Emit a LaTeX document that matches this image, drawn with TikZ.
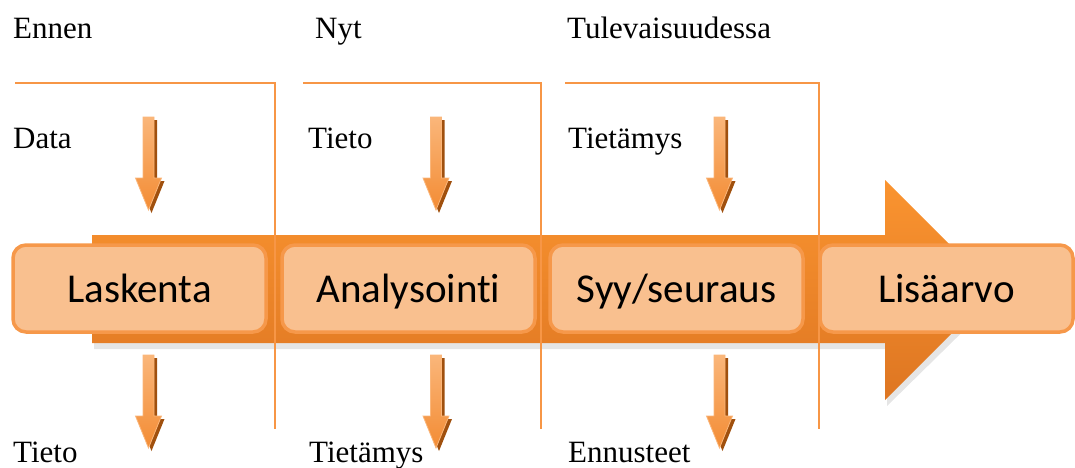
\documentclass[tikz,border=0pt]{standalone}
\usepackage{fontspec}
\setmainfont{Liberation Serif}
\newfontfamily\boxfont[Ligatures=NoCommon]{Carlito}
\usetikzlibrary{shadings}
\definecolor{lineor}{RGB}{247,150,70}
\definecolor{boxfill}{RGB}{249,192,143}
\definecolor{boxline}{RGB}{246,152,74}
\definecolor{arrtop}{RGB}{250,148,48}
\definecolor{arrbot}{RGB}{222,118,34}
\definecolor{smtop}{RGB}{250,182,122}
\definecolor{smbot}{RGB}{243,140,52}
\definecolor{smshadow}{RGB}{160,80,14}
\tikzset{
  lbl/.style={anchor=base west, inner sep=0pt, font=\fontsize{31}{31}\selectfont},
  stagebox/.style={draw=boxline, line width=3.5pt, fill=boxfill, rounded corners=13pt,
    minimum width=253pt, minimum height=87pt, inner sep=0pt, text height=27pt, text depth=0pt,
    font=\boxfont\fontsize{41}{41}\selectfont},
  sect/.style={draw=lineor, line width=2.3pt},
  pics/dnarr/.style={code={
    \fill[smshadow] (-2.5,3) -- (8.5,3) -- (8.5,64) -- (16,64) -- (3,96) -- (-10,64) -- (-2.5,64) -- cycle;
    \shade[top color=smtop, bottom color=smbot, draw=smtop, line width=0.8pt]
      (-5.5,0) -- (5.5,0) -- (5.5,61) -- (13,61) -- (0,93) -- (-13,61) -- (-5.5,61) -- cycle;
  }}
}
\begin{document}
\begin{tikzpicture}[x=1pt,y=-1pt]
\useasboundingbox (0,0) rectangle (1075,467);
% shadow of big arrow
\fill[black!10] (94,240) -- (887,240) -- (887,186) -- (999,296) -- (887,406) -- (887,349) -- (94,349) -- cycle;
% big arrow
\shade[top color=arrtop, bottom color=arrbot]
  (92,235) -- (885,235) -- (885,180) -- (995,290) -- (885,400) -- (885,343) -- (92,343) -- cycle;
% section lines
\coordinate (s1a) at (15,83); \coordinate (s1b) at (275,83); \coordinate (s1c) at (275,429);
\coordinate (s2a) at (303,83); \coordinate (s2b) at (541,83); \coordinate (s2c) at (541,429);
\coordinate (s3a) at (565,83); \coordinate (s3b) at (819,83); \coordinate (s3c) at (819,429);
\draw[sect] (s1a) -- (s1b) -- (s1c);
\draw[sect] (s2a) -- (s2b) -- (s2c);
\draw[sect] (s3a) -- (s3b) -- (s3c);
% stage boxes
\node[stagebox] (b1) at (139.5,288.5) {Laskenta};
\node[stagebox] (b2) at (408.5,288.5) {Analysointi};
\node[stagebox] (b3) at (676.5,288.5) {Syy/seuraus};
\node[stagebox] (b4) at (946.5,288.5) {Lisäarvo};
% small arrows
\pic at (148.5,117) {dnarr};
\pic at (436,117) {dnarr};
\pic at (719.5,117) {dnarr};
\pic at (148.5,355) {dnarr};
\pic at (436,355) {dnarr};
\pic at (719.5,355) {dnarr};
% labels
\node[lbl] (h1) at (13,38) {Ennen};
\node[lbl] (h2) at (315,38) {Nyt};
\node[lbl] (h3) at (567,38) {Tulevaisuudessa};
\node[lbl] (t1) at (13,148) {Data};
\node[lbl] (t2) at (308,148) {Tieto};
\node[lbl] (t3) at (568,148) {Tietämys};
\node[lbl] (u1) at (13,462) {Tieto};
\node[lbl] (u2) at (309,462) {Tietämys};
\node[lbl] (u3) at (568,462) {Ennusteet};
\end{tikzpicture}
\end{document}
